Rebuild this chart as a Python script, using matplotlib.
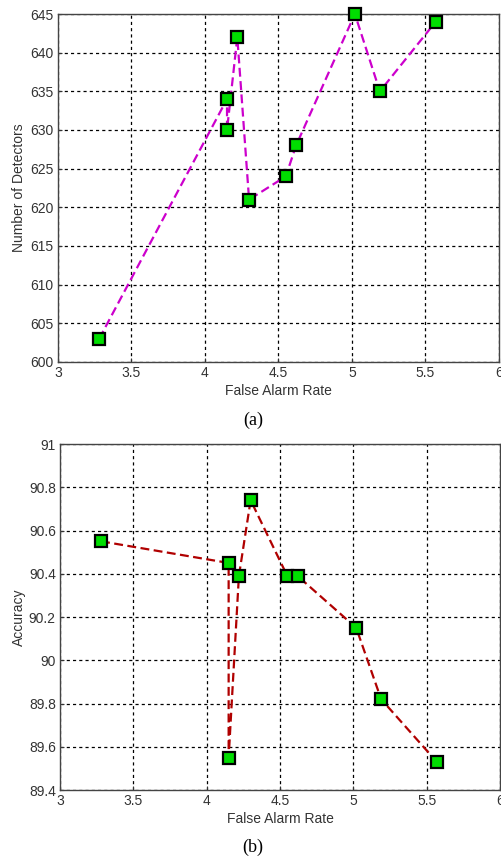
import matplotlib.pyplot as plt

plt.rcParams['font.family'] = ['Liberation Sans', 'DejaVu Sans']

# valores
false_alarm = [3.28, 4.15, 4.15, 4.22, 4.30, 4.55, 4.62, 5.02, 5.19, 5.57]
detectores = [603, 634, 630, 642, 621, 624, 628, 645, 635, 644]

false_alarm_b = [3.28, 4.15, 4.15, 4.22, 4.30, 4.55, 4.62, 5.02, 5.19, 5.57]
acuracia = [90.55, 90.45, 89.55, 90.39, 90.74, 90.39, 90.39, 90.15, 89.82, 89.53]

xticks = [3, 3.5, 4, 4.5, 5, 5.5, 6]
xticklabels = ['3', '3.5', '4', '4.5', '5', '5.5', '6']
yticks_a = [600, 605, 610, 615, 620, 625, 630, 635, 640, 645]
yticks_b = [89.4, 89.6, 89.8, 90, 90.2, 90.4, 90.6, 90.8, 91]
yticklabels_b = ['89.4', '89.6', '89.8', '90', '90.2', '90.4', '90.6', '90.8', '91']

fig = plt.figure(figsize=(5.01, 8.59), dpi=100)
ax1 = fig.add_axes([0.1158, 0.5786, 0.880, 0.4051])
ax2 = fig.add_axes([0.1198, 0.0803, 0.878, 0.4028])

cinza = '#333333'


def estilo(ax, yticks, ylabels, ylim):
    ax.set_xlim(3, 6)
    ax.set_ylim(*ylim)
    ax.set_xticks(xticks)
    ax.set_xticklabels(xticklabels)
    ax.set_yticks(yticks)
    ax.set_yticklabels(ylabels)
    ax.grid(True, color='black', linestyle=(0, (2.5, 2.5)), linewidth=0.9)
    ax.tick_params(direction='in', length=3, labelsize=10, labelcolor=cinza,
                   color=cinza, pad=3)
    for lado in ax.spines.values():
        lado.set_color('#444444')
        lado.set_linewidth(1.0)
    ax.set_xlabel('False Alarm Rate', fontsize=10, color=cinza, labelpad=3)
    ax.set_axisbelow(True)


ax1.plot(false_alarm, detectores, color='#cc00cc', linestyle=(0, (4, 2)),
         linewidth=1.6, marker='s', markersize=8.5, markerfacecolor='#00dd00',
         markeredgecolor='black', markeredgewidth=1.6, clip_on=False, zorder=3)
estilo(ax1, yticks_a, [str(v) for v in yticks_a], (600, 645))
ax1.set_ylabel('Number of Detectors', fontsize=10, color=cinza, labelpad=3)

ax2.plot(false_alarm_b, acuracia, color='#b00000', linestyle=(0, (4, 2)),
         linewidth=1.6, marker='s', markersize=8.5, markerfacecolor='#00dd00',
         markeredgecolor='black', markeredgewidth=1.6, clip_on=False, zorder=3)
estilo(ax2, yticks_b, yticklabels_b, (89.4, 91))
ax2.set_ylabel('Accuracy', fontsize=10, color=cinza, labelpad=2)

fig.text(0.505, 1 - 420 / 859, '(a)', family='Liberation Serif', fontsize=13,
         ha='center', va='center')
fig.text(0.505, 1 - 847 / 859, '(b)', family='Liberation Serif', fontsize=13,
         ha='center', va='center')

fig.savefig('out.png', dpi=100)
